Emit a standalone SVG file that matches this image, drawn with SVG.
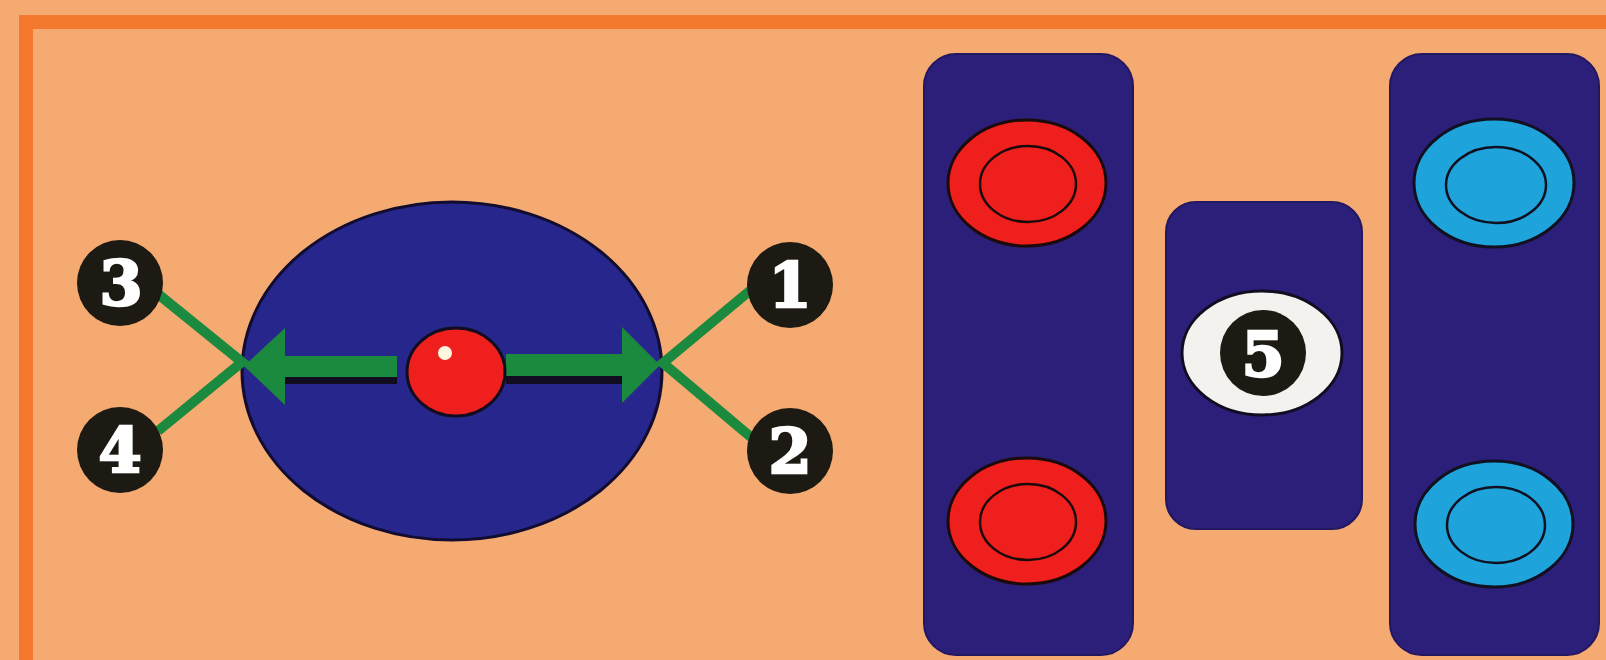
<svg xmlns="http://www.w3.org/2000/svg" width="1606" height="660" viewBox="0 0 1606 660">
<style>
.num{fill:#1c1a12}
.dig{fill:#ffffff;stroke:#ffffff;stroke-width:2.5;font-family:"DejaVu Serif","Liberation Serif",serif;font-weight:bold;font-size:62px;text-anchor:middle}
.panel{fill:#2c1f7a;stroke:#231760;stroke-width:2}
.red{fill:#ee1f1c;stroke:#1a0a0a;stroke-width:3}
.redin{fill:#ee1f1c;stroke:#1a0a0a;stroke-width:2.5}
.cyan{fill:#1fa3db;stroke:#101020;stroke-width:3}
.cyanin{fill:#1fa3db;stroke:#101020;stroke-width:2.5}
.lead{stroke:#1b8a3e;stroke-width:10;fill:none}
.arrow{fill:#1b8a3e}
.shadow{fill:#120c20}
</style>
<rect width="1606" height="660" fill="#f5aa72"/>
<path d="M26,660 V22 H1606" fill="none" stroke="#f4782e" stroke-width="14"/>

<g id="ellipse-node">
<ellipse cx="452" cy="371" rx="210" ry="169" fill="#27268c" stroke="#120c30" stroke-width="3"/>
</g>

<g id="connectors">
<polyline class="lead" points="158,294 242,362 158,431"/>
<polyline class="lead" points="752,289 663,363 752,438"/>
<rect class="shadow" x="285" y="374" width="112" height="10"/>
<rect class="shadow" x="506" y="374" width="118" height="10"/>
<polygon class="arrow" points="244,366 285,328 285,356 397,356 397,377 285,377 285,405"/>
<polygon class="arrow" points="660,365 622,327 622,354 506,354 506,376 622,376 622,403"/>
</g>

<g id="ball">
<ellipse cx="456" cy="372" rx="49" ry="44" fill="#ee1f1c" stroke="#120c20" stroke-width="3"/>
<circle cx="445" cy="353" r="7" fill="#fff6e0"/>
</g>

<g id="n1"><circle class="num" cx="790" cy="285" r="43"/><text class="dig" x="790" y="307">1</text></g>
<g id="n2"><circle class="num" cx="790" cy="451" r="43"/><text class="dig" x="790" y="473">2</text></g>
<g id="n3"><circle class="num" cx="120" cy="283" r="43"/><text class="dig" x="121" y="305">3</text></g>
<g id="n4"><circle class="num" cx="120" cy="450" r="43"/><text class="dig" x="120" y="472">4</text></g>

<g id="panel-red">
<rect class="panel" x="924" y="54" width="209" height="601" rx="32"/>
<ellipse class="red" cx="1027" cy="183" rx="79" ry="63"/>
<ellipse class="redin" cx="1028" cy="184" rx="48" ry="38"/>
<ellipse class="red" cx="1027" cy="521" rx="79" ry="63"/>
<ellipse class="redin" cx="1028" cy="522" rx="48" ry="38"/>
</g>

<g id="panel-5">
<rect class="panel" x="1166" y="202" width="196" height="327" rx="30"/>
<ellipse cx="1262" cy="353" rx="80" ry="62" fill="#f4f2ee" stroke="#120c20" stroke-width="3"/>
<circle class="num" cx="1263" cy="353" r="43"/>
<text class="dig" x="1263" y="376">5</text>
</g>

<g id="panel-cyan">
<rect class="panel" x="1390" y="54" width="209" height="601" rx="32"/>
<ellipse class="cyan" cx="1494" cy="183" rx="80" ry="64"/>
<ellipse class="cyanin" cx="1496" cy="185" rx="50" ry="38"/>
<ellipse class="cyan" cx="1494" cy="524" rx="79" ry="63"/>
<ellipse class="cyanin" cx="1496" cy="525" rx="49" ry="38"/>
</g>
</svg>
